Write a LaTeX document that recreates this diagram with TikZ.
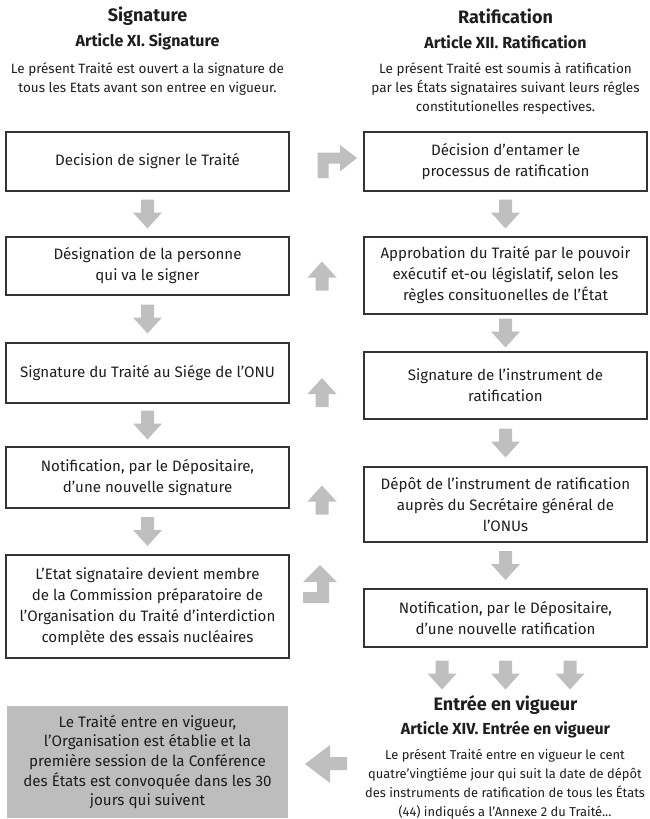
\documentclass[tikz,border=0pt]{standalone}
\usepackage{fontspec}
\setmainfont{Fira Sans}
\usetikzlibrary{calc}
\definecolor{agray}{HTML}{BFBFBF}
\definecolor{bgray}{HTML}{BDBDBD}
\definecolor{txt}{HTML}{1E1E1E}
\definecolor{edge}{HTML}{333333}
\begin{document}
\begin{tikzpicture}[x=1pt,y=-1pt,
 box/.style={draw=edge, line width=1.1pt, minimum width=283pt, align=center, text=txt, font=\fontsize{15.1}{21}\selectfont, inner sep=0pt},
 graybox/.style={box, draw=none, fill=bgray, minimum width=281pt, font=\fontsize{15.2}{19.7}\selectfont},
 title/.style={font=\bfseries\fontsize{18}{20}\selectfont, text=txt},
 art/.style={font=\bfseries\fontsize{16}{18}\selectfont, text=txt},
 desc/.style={font=\fontsize{13.5}{19}\selectfont, align=center, text=txt},
 dnarr/.pic={\fill[agray] (-6.5,-14.5) -- (6.5,-14.5) -- (6.5,-1.5) -- (14.5,-1.5) -- (0,14.5) -- (-14.5,-1.5) -- (-6.5,-1.5) -- cycle;},
 uparr/.pic={\fill[agray] (-6.5,14.5) -- (6.5,14.5) -- (6.5,1.5) -- (14.5,1.5) -- (0,-14.5) -- (-14.5,1.5) -- (-6.5,1.5) -- cycle;}
]
\useasboundingbox (0,0) rectangle (649,819);

% headers
\node[title] (sigT) at (147.5,16) {Signature};
\node[art] (sigA) at (147.5,42) {Article XI. Signature};
\node[desc] (sigD) at (147.5,79.5) {Le présent Traité est ouvert a la signature de\\tous les Etats avant son entree en vigueur.};

\node[title] (ratT) at (505.5,16) {Ratification};
\node[art] (ratA) at (505.5,42) {Article XII. Ratification};
\node[desc] (ratD) at (505.5,88.5) {Le présent Traité est soumis à ratification\\par les États signataires suivant leurs régles\\constitutionelles respectives.};

% left column
\node[box, minimum height=59pt] (L1) at (147.5,161.5) {Decision de signer le Traité};
\node[box, minimum height=58pt] (L2) at (147.5,266) {Désignation de la personne\\qui va le signer};
\node[box, minimum height=60pt] (L3) at (147.5,373) {Signature du Traité au Siége de l'ONU};
\node[box, minimum height=61pt] (L4) at (147.5,477.5) {Notification, par le Dépositaire,\\d'une nouvelle signature};
\node[box, minimum height=103pt] (L5) at (147.5,606.5) {L'Etat signataire devient membre\\de la Commission préparatoire de\\l'Organisation du Traité d'interdiction\\complète des essais nucléaires};
\node[graybox, minimum height=112pt] (L6) at (147.5,762) {Le Traité entre en vigueur,\\l'Organisation est établie et la\\première session de la Conférence\\des États est convoquée dans les 30\\jours qui suivent};

% right column
\node[box, minimum height=59pt] (R1) at (505.5,161.5) {Décision d'entamer le\\processus de ratification};
\node[box, minimum height=77pt] (R2) at (505.5,275.5) {Approbation du Traité par le pouvoir\\exécutif et-ou législatif, selon les\\règles consituonelles de l'État};
\node[box, minimum height=67pt] (R3) at (505.5,385.5) {Signature de l'instrument de\\ratification};
\node[box, minimum height=75pt] (R4) at (505.5,504.5) {Dépôt de l'instrument de ratification\\auprès du Secrétaire général de\\l'ONUs};
\node[box, minimum height=58pt] (R5) at (505.5,618) {Notification, par le Dépositaire,\\d'une nouvelle ratification};

% entry into force
\node[title] (entT) at (505.5,705) {Entrée en vigueur};
\node[art] (entA) at (505.5,730) {Article XIV. Entrée en vigueur};
\node[desc, font=\fontsize{12.9}{19}\selectfont] (entD) at (505,784.5) {Le présent Traité entre en vigueur le cent\\quatre'vingtiéme jour qui suit la date de dépôt\\des instruments de ratification de tous les États\\(44) indiqués a l'Annexe 2 du Traité...};

% vertical arrows
\foreach \a/\b in {L1/L2,L2/L3,L3/L4,L4/L5,R1/R2,R2/R3,R3/R4,R4/R5}
  \path ($(\a.south)!0.5!(\b.north)$) pic{dnarr};

% up arrows between columns
\path (322,276) pic{uparr};
\path (322,392.5) pic{uparr};
\path (322,500) pic{uparr};

% three arrows to entry into force
\foreach \x in {442,505.5,570}
  \path (\x,675) pic{dnarr};

% elbow arrow L1 -> R1
\fill[agray] (317.5,178) -- (317.5,152.5) -- (340,152.5) -- (340,145) -- (357,158) -- (340,171.5) -- (340,163.5) -- (328.5,163.5) -- (328.5,178) -- cycle;

% elbow arrow up from L5
\fill[agray] (303,603) -- (329,603) -- (329,582) -- (337,582) -- (320,565) -- (303,582) -- (317,582) -- (317,592) -- (303,592) -- cycle;

% left arrow to L6
\fill[agray] (347,757) -- (330,757) -- (330,745) -- (305,764) -- (330,783) -- (330,770) -- (347,770) -- cycle;
\end{tikzpicture}
\end{document}
